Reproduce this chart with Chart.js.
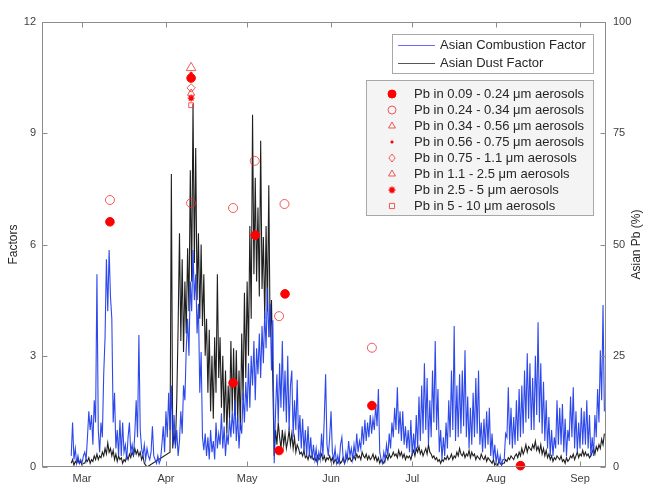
<!DOCTYPE html>
<html><head><meta charset="utf-8">
<script src="https://cdn.jsdelivr.net/npm/chart.js@4.4.1/dist/chart.umd.min.js"></script>
<style>html,body{margin:0;padding:0;background:#fff;}canvas{display:block;}</style>
</head><body>
<canvas id="c" width="647" height="487"></canvas>
<script>
// ---- axis / tick data ----
const monthDays = [0, 31, 61, 92, 122, 153, 184];           // days since 1 March
const monthLabels = ['Mar', 'Apr', 'May', 'Jun', 'Jul', 'Aug', 'Sep'];
const leftTicks = [0, 3, 6, 9, 12];
const rightTicks = [0, 25, 50, 75, 100];

// ---- time series: sampled every half day starting at day -4 (26 Feb) ----
const seriesStartDay = -4;
const seriesStepDays = 0.5;

const combustionFactor = [
  0.3,1.2,0.2,0.5,0.1,0.3,0.1,0.2,0.1,0.3,
  0.4,0.2,0.8,1.5,1.0,1.4,0.6,1.8,1.2,5.2,
  1.0,0.4,1.2,0.8,2.5,3.5,5.6,4.2,5.85,4.6,
  4.0,1.2,2.0,0.5,1.0,0.3,1.27,0.3,1.2,0.4,
  0.6,0.2,0.8,1.2,0.4,0.6,0.3,0.9,1.8,0.8,
  3.56,1.0,0.5,0.3,0.6,0.2,0.5,0.3,0.2,0.4,
  1.1,0.3,0.2,0.1,0.3,0.1,0.2,0.6,1.1,0.4,
  1.5,0.8,2.0,1.0,2.2,0.6,1.4,0.5,1.0,0.3,
  0.7,1.5,0.9,2.2,1.8,3.2,4.0,3.0,5.0,4.2,
  5.85,4.5,5.2,3.6,4.4,2.0,3.1,0.8,0.45,0.9,
  0.3,0.8,0.2,1.0,0.4,0.7,0.2,1.2,0.5,0.9,
  0.6,1.45,0.5,1.1,0.3,0.9,0.6,1.3,0.8,1.5,
  0.9,1.8,0.7,1.4,0.5,1.2,0.9,2.0,1.2,2.3,
  1.5,2.8,1.6,3.0,2.2,3.4,1.8,3.2,2.5,3.6,
  2.4,3.8,2.8,4.2,3.2,4.85,3.5,4.4,2.6,3.96,
  0.1,1.5,2.5,1.2,2.8,1.6,3.4,1.5,2.6,1.2,
  3.0,1.0,2.2,2.6,0.8,1.8,1.0,2.35,0.7,1.4,
  0.5,1.3,0.4,1.0,0.3,1.1,0.3,0.8,0.2,0.6,
  0.2,0.5,0.1,0.4,0.2,0.9,0.3,1.3,2.5,0.6,
  0.3,0.8,1.5,0.4,0.2,0.5,0.1,0.3,0.1,0.6,
  0.8,0.2,0.1,0.4,0.2,0.7,0.3,0.5,0.2,0.6,
  0.3,0.9,0.4,0.7,0.5,1.1,0.6,1.27,0.7,1.2,
  0.8,1.4,0.9,1.3,1.0,1.7,1.1,2.1,0.4,0.2,
  0.1,0.4,0.2,0.6,0.3,0.9,0.5,1.2,0.8,1.6,
  1.0,2.15,0.9,1.5,0.7,1.5,0.6,1.1,0.5,1.0,
  0.4,1.27,0.3,0.9,0.4,1.4,0.5,1.9,0.7,2.2,
  0.9,2.8,1.0,2.4,0.6,1.8,0.8,2.6,1.2,3.4,
  1.0,2.1,0.4,1.0,0.2,0.8,0.3,1.2,0.5,1.8,
  0.8,2.6,1.0,3.8,0.7,2.2,0.8,2.5,0.9,2.6,
  1.1,3.15,0.8,1.9,0.5,1.6,0.6,2.0,0.8,2.4,
  0.9,2.6,0.6,1.2,0.4,1.3,0.5,1.5,0.6,1.6,
  0.3,0.9,0.2,0.6,0.1,0.4,0.1,0.3,0.05,0.2,
  0.2,0.9,0.8,2.15,0.6,1.6,0.5,1.35,0.6,1.8,
  0.7,2.1,0.8,2.2,0.9,2.6,1.2,3.07,1.3,2.8,
  1.0,2.4,1.0,3.0,1.4,3.9,1.2,2.8,0.9,2.3,
  0.7,1.8,0.5,1.35,0.3,1.0,0.3,0.8,0.5,1.8,
  0.6,1.6,0.6,1.7,0.4,1.3,0.3,1.0,0.7,1.9,
  0.8,2.15,0.5,1.5,0.4,1.2,0.5,1.6,0.6,1.5,
  0.6,1.8,0.5,1.4,0.3,0.8,0.3,1.4,0.8,2.1,
  1.2,3.15,1.8,4.37,1.5
];

const dustFactor = [
  0.1,0.2,0.05,0.15,0.1,0.2,0.1,0.15,0.05,0.1,
  0.1,0.2,0.15,0.25,0.1,0.2,0.15,0.3,0.2,0.35,
  0.2,0.3,0.25,0.4,0.3,0.5,0.35,0.65,0.4,0.5,
  0.3,0.45,0.2,0.35,0.15,0.3,0.2,0.25,0.1,0.2,
  0.15,0.3,0.2,0.35,0.25,0.4,0.3,0.5,0.35,0.45,
  0.3,0.4,0.2,0.3,0.1,0.05,0.0,null,null,null,
  null,null,null,null,null,null,null,null,null,null,
  null,null,null,0.4,7.9,0.5,0.9,0.6,1.8,3.8,
  6.3,3.4,5.6,3.1,5.0,3.6,5.9,4.2,8.0,5.0,
  9.8,5.5,8.6,4.5,6.3,4.0,6.0,3.8,5.2,3.0,
  4.0,2.0,3.7,1.5,3.0,1.3,3.5,2.0,5.2,2.4,
  3.5,1.6,3.0,1.2,2.6,0.9,2.2,1.3,3.4,1.5,
  3.2,1.4,3.15,1.2,2.6,1.0,3.6,1.8,4.7,2.4,
  5.0,3.0,6.5,4.0,9.5,5.2,7.8,5.0,7.0,4.6,
  8.8,4.8,6.2,4.0,6.5,4.2,7.6,3.5,4.5,2.2,
  0.3,1.0,0.6,1.2,0.8,0.5,1.0,0.6,0.9,0.5,
  0.7,1.0,0.6,0.9,0.5,0.8,0.4,0.6,0.5,0.35,
  0.4,0.3,0.45,0.25,0.3,0.2,0.35,0.25,0.3,0.2,
  0.25,0.15,0.3,0.2,0.25,0.35,0.2,0.3,0.15,0.25,
  0.2,0.3,0.15,0.25,0.1,0.2,0.15,0.1,0.2,0.1,
  0.15,0.25,0.1,0.2,0.3,0.2,0.25,0.15,0.2,0.3,
  0.2,0.35,0.25,0.3,0.2,0.4,0.3,0.25,0.35,0.2,
  0.3,0.2,0.25,0.35,0.2,0.3,0.15,0.25,0.1,0.2,
  0.15,0.1,0.2,0.3,0.2,0.35,0.25,0.3,0.4,0.3,
  0.35,0.25,0.45,0.3,0.4,0.25,0.35,0.2,0.3,0.25,
  0.3,0.2,0.35,0.45,0.3,0.5,0.4,0.55,0.35,0.45,
  0.3,0.4,0.5,0.35,0.6,0.4,0.35,0.25,0.3,0.2,
  0.25,0.15,0.2,0.1,0.2,0.15,0.25,0.2,0.3,0.2,
  0.25,0.35,0.2,0.3,0.25,0.4,0.3,0.5,0.35,0.3,
  0.4,0.25,0.35,0.3,0.45,0.25,0.4,0.3,0.35,0.2,
  0.3,0.25,0.2,0.35,0.25,0.2,0.3,0.15,0.25,0.2,
  0.15,0.1,0.2,0.05,0.1,0.05,0.15,0.1,0.05,0.1,
  0.1,0.2,0.15,0.25,0.2,0.3,0.25,0.2,0.3,0.35,
  0.25,0.4,0.3,0.5,0.35,0.45,0.6,0.4,0.55,0.5,
  0.45,0.6,0.5,0.7,0.45,0.55,0.4,0.6,0.35,0.5,
  0.3,0.45,0.25,0.35,0.2,0.3,0.15,0.25,0.2,0.3,
  0.25,0.2,0.3,0.15,0.2,0.1,0.25,0.15,0.2,0.3,
  0.25,0.35,0.2,0.3,0.4,0.25,0.35,0.3,0.45,0.3,
  0.4,0.3,0.35,0.25,0.3,0.4,0.5,0.35,0.55,0.45,
  0.6,0.5,0.75,0.6,0.9
];

// ---- Asian Pb (%) by aerosol size bin (day since 1 March, percent) ----
const pb009Days = [10.3, 40.3, 55.8, 64.0, 72.8, 75.0, 107.1, 162.0];
const pb009Vals = [55.1, 87.4, 18.9, 52.1, 3.7, 38.9, 13.8, 0.3];
const pb024Days = [10.3, 40.3, 55.8, 63.8, 72.8, 74.8, 107.1];
const pb024Vals = [60.0, 59.3, 58.2, 68.8, 33.9, 59.1, 26.8];
const pb034Days = [40.3]; const pb034Vals = [89.7];
const pb056Days = [40.3]; const pb056Vals = [88.5];
const pb075Days = [40.3]; const pb075Vals = [85.2];
const pb110Days = [40.3]; const pb110Vals = [84.0];
const pb250Days = [40.3]; const pb250Vals = [82.9];
const pb500Days = [40.3]; const pb500Vals = [81.3];

const lineLabels = ['Asian Combustion Factor', 'Asian Dust Factor'];
const pbLabels = [
  'Pb in 0.09 - 0.24 \u03bcm aerosols',
  'Pb in 0.24 - 0.34 \u03bcm aerosols',
  'Pb in 0.34 - 0.56 \u03bcm aerosols',
  'Pb in 0.56 - 0.75 \u03bcm aerosols',
  'Pb in 0.75 - 1.1 \u03bcm aerosols',
  'Pb in 1.1 - 2.5 \u03bcm aerosols',
  'Pb in 2.5 - 5 \u03bcm aerosols',
  'Pb in 5 - 10 \u03bcm aerosols'
];

// ---- build library data ----
function series(vals) {
  return vals.map((v, i) => ({ x: seriesStartDay + i * seriesStepDays, y: v }));
}
function pts(days, vals) { return days.map((d, i) => ({ x: d, y: vals[i] })); }

const RED = '#ff0000';
const RING = 'rgba(240,40,40,0.85)';
const markerStyles = [
  { style: 'circle', r: 4.3, fill: RED, stroke: RED, w: 1 },
  { style: 'circle', r: 4.5, fill: 'rgba(0,0,0,0)', stroke: RING, w: 0.9 },
  { style: 'triangle', r: 5.5, fill: 'rgba(0,0,0,0)', stroke: RING, w: 0.9 },
  { style: 'circle', r: 1.3, fill: RED, stroke: RED, w: 0.5 },
  { style: 'rectRot', r: 4.2, fill: 'rgba(0,0,0,0)', stroke: RING, w: 0.9 },
  { style: 'triangle', r: 4.2, fill: 'rgba(0,0,0,0)', stroke: RING, w: 0.9 },
  { style: 'star', r: 3.4, fill: RED, stroke: RED, w: 1.4 },
  { style: 'rect', r: 3.4, fill: 'rgba(0,0,0,0)', stroke: RING, w: 0.9 }
];
const pbSets = [
  [pb009Days, pb009Vals], [pb024Days, pb024Vals], [pb034Days, pb034Vals], [pb056Days, pb056Vals],
  [pb075Days, pb075Vals], [pb110Days, pb110Vals], [pb250Days, pb250Vals], [pb500Days, pb500Vals]
];

const datasets = [];
pbSets.forEach((s, i) => {
  const m = markerStyles[i];
  datasets.push({
    type: 'scatter', label: pbLabels[i], data: pts(s[0], s[1]), yAxisID: 'y2', xAxisID: 'x',
    pointStyle: m.style, pointRadius: m.r, pointBackgroundColor: m.fill,
    pointBorderColor: m.stroke, pointBorderWidth: m.w, order: 0, clip: false
  });
});
datasets.push({
  type: 'line', label: lineLabels[0], data: series(combustionFactor), yAxisID: 'y', xAxisID: 'x',
  borderColor: 'rgba(28,58,232,0.92)', borderWidth: 1.1, pointRadius: 0, tension: 0,
  spanGaps: true, fill: false, order: 1
});
datasets.push({
  type: 'line', label: lineLabels[1], data: series(dustFactor), yAxisID: 'y', xAxisID: 'x',
  borderColor: 'rgba(0,0,0,0.88)', borderWidth: 1.1, pointRadius: 0, tension: 0,
  spanGaps: true, fill: false, order: 2
});

// ---- helpers for custom drawing ----
function drawMarker(ctx, m, x, y) {
  ctx.save();
  ctx.lineWidth = m.w; ctx.strokeStyle = m.stroke; ctx.fillStyle = m.fill;
  const r = m.r;
  ctx.beginPath();
  if (m.style === 'circle') { ctx.arc(x, y, r, 0, Math.PI * 2); ctx.fill(); ctx.stroke(); }
  else if (m.style === 'triangle') {
    ctx.moveTo(x, y - r); ctx.lineTo(x + r * 0.866, y + r * 0.5); ctx.lineTo(x - r * 0.866, y + r * 0.5);
    ctx.closePath(); ctx.stroke();
  } else if (m.style === 'rectRot') {
    ctx.moveTo(x, y - r); ctx.lineTo(x + r * 0.8, y); ctx.lineTo(x, y + r); ctx.lineTo(x - r * 0.8, y);
    ctx.closePath(); ctx.stroke();
  } else if (m.style === 'star') {
    for (let k = 0; k < 4; k++) {
      const a = k * Math.PI / 4;
      ctx.moveTo(x - Math.cos(a) * r, y - Math.sin(a) * r); ctx.lineTo(x + Math.cos(a) * r, y + Math.sin(a) * r);
    }
    ctx.stroke();
  } else if (m.style === 'rect') {
    ctx.rect(x - r * 0.75, y - r * 0.75, r * 1.5, r * 1.5); ctx.stroke();
  }
  ctx.restore();
}

const framePlugin = {
  id: 'matlabFrame',
  afterDraw(chart) {
    const { ctx, chartArea: a, scales } = chart;
    const L = Math.round(a.left) + 0.5, R = Math.round(a.right) - 0.5;
    const T = Math.round(a.top) + 0.5, B = Math.round(a.bottom) - 0.5;
    ctx.save();
    ctx.strokeStyle = '#8c8c8c'; ctx.lineWidth = 1;
    ctx.strokeRect(L, T, R - L, B - T);
    ctx.beginPath();
    leftTicks.forEach(v => { const y = Math.round(scales.y.getPixelForValue(v)) + 0.5; ctx.moveTo(L, y); ctx.lineTo(L + 5, y); });
    rightTicks.forEach(v => { const y = Math.round(scales.y2.getPixelForValue(v)) + 0.5; ctx.moveTo(R, y); ctx.lineTo(R - 5, y); });
    monthDays.forEach(v => {
      const x = Math.round(scales.x.getPixelForValue(v)) + 0.5;
      ctx.moveTo(x, B); ctx.lineTo(x, B - 5); ctx.moveTo(x, T); ctx.lineTo(x, T + 5);
    });
    ctx.stroke();

    // axis titles (both read upward, as in the original)
    ctx.fillStyle = '#262626';
    ctx.font = '12px "Liberation Sans", Arial, sans-serif';
    ctx.textAlign = 'center'; ctx.textBaseline = 'middle';
    const cy = (a.top + a.bottom) / 2;
    ctx.save(); ctx.translate(14, cy); ctx.rotate(-Math.PI / 2); ctx.fillText('Factors', 0, 0); ctx.restore();
    ctx.save(); ctx.translate(637, cy); ctx.rotate(-Math.PI / 2); ctx.fillText('Asian Pb (%)', 0, 0); ctx.restore();

    // legend 1 (lines)
    ctx.fillStyle = '#ffffff'; ctx.strokeStyle = '#a8a8a8'; ctx.lineWidth = 1;
    ctx.fillRect(392.5, 34.5, 201, 39); ctx.strokeRect(392.5, 34.5, 201, 39);
    ctx.lineWidth = 1;
    ctx.strokeStyle = '#6b6bf2'; ctx.beginPath(); ctx.moveTo(398, 45.5); ctx.lineTo(435, 45.5); ctx.stroke();
    ctx.strokeStyle = '#555555'; ctx.beginPath(); ctx.moveTo(398, 63.5); ctx.lineTo(435, 63.5); ctx.stroke();
    ctx.fillStyle = '#262626'; ctx.textAlign = 'left'; ctx.textBaseline = 'middle';
    ctx.font = '13px "Liberation Sans", Arial, sans-serif';
    ctx.fillText(lineLabels[0], 440, 45.5);
    ctx.fillText(lineLabels[1], 440, 63.5);

    // legend 2 (markers)
    ctx.fillStyle = '#f4f4f4'; ctx.strokeStyle = '#a8a8a8';
    ctx.fillRect(366.5, 80.5, 227, 135); ctx.strokeRect(366.5, 80.5, 227, 135);
    ctx.font = '13px "Liberation Sans", Arial, sans-serif';
    pbLabels.forEach((lab, i) => {
      const y = 94 + 16 * i;
      const m = Object.assign({}, markerStyles[i]);
      m.r = Math.min(m.r, 4);
      drawMarker(ctx, m, 392, y);
      ctx.fillStyle = '#262626';
      ctx.fillText(lab, 414, y);
    });
    ctx.restore();
  }
};

new Chart(document.getElementById('c'), {
  data: { datasets },
  options: {
    responsive: false, animation: false, devicePixelRatio: 1,
    layout: { padding: { top: 22, left: 0, right: 0, bottom: 0 } },
    plugins: { legend: { display: false }, tooltip: { enabled: false } },
    scales: {
      x: {
        type: 'linear', position: 'bottom', min: -14.8, max: 193.6,
        grid: { display: false, drawTicks: false }, border: { display: false },
        afterBuildTicks: s => { s.ticks = monthDays.map(v => ({ value: v })); },
        afterFit: s => { s.height = 20; },
        ticks: {
          autoSkip: false, maxRotation: 0, padding: 5, color: '#404040',
          font: { family: '"Liberation Sans", Arial, sans-serif', size: 11 },
          callback: v => monthLabels[monthDays.indexOf(v)]
        }
      },
      y: {
        type: 'linear', position: 'left', min: 0, max: 12,
        grid: { display: false, drawTicks: false }, border: { display: false },
        afterBuildTicks: s => { s.ticks = leftTicks.map(v => ({ value: v })); },
        afterFit: s => { s.width = 42; },
        ticks: { padding: 6, color: '#404040', font: { family: '"Liberation Sans", Arial, sans-serif', size: 11 } }
      },
      y2: {
        type: 'linear', position: 'right', min: 0, max: 100,
        grid: { display: false, drawTicks: false }, border: { display: false },
        afterBuildTicks: s => { s.ticks = rightTicks.map(v => ({ value: v })); },
        afterFit: s => { s.width = 41; },
        ticks: { padding: 7, color: '#404040', font: { family: '"Liberation Sans", Arial, sans-serif', size: 11 } }
      }
    }
  },
  plugins: [framePlugin]
});
</script>
</body></html>
